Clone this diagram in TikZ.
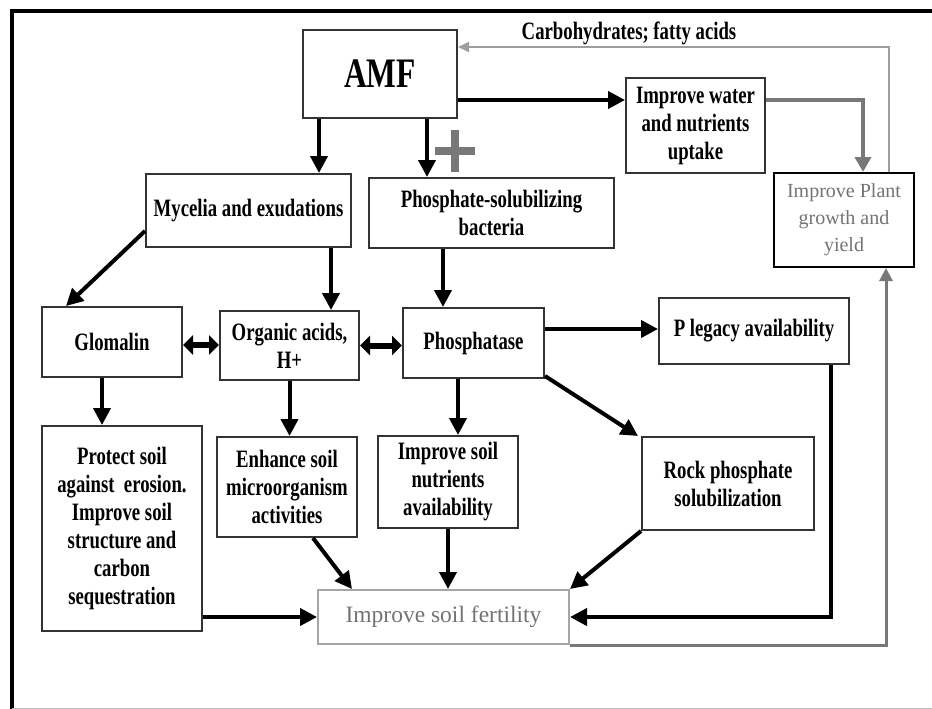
\documentclass[tikz,border=0pt]{standalone}
\usepackage{fontspec}
\setmainfont{Liberation Serif}
\newfontfamily\narrowfont{Liberation Serif}[FakeStretch=0.75]
\usetikzlibrary{arrows.meta}
\definecolor{softtext}{gray}{0.45}
\definecolor{midline}{gray}{0.47}
\definecolor{paleline}{gray}{0.62}

\begin{document}
\begin{tikzpicture}[x=1pt,y=-1pt,
      box/.style={draw=black!80, line width=2pt, fill=white, align=center, inner sep=2pt,
        font=\narrowfont\bfseries\fontsize{25}{28}\selectfont},
      softbox/.style={box, text=softtext, font=\fontsize{20}{27}\selectfont},
      arr/.style={line width=4pt, -{Triangle[length=17pt,width=17pt]}},
      twoway/.style={line width=6pt, {Triangle[length=10pt,width=19pt]}-{Triangle[length=10pt,width=19pt]}},
      grayarr/.style={midline, line width=4pt, -{Triangle[length=15pt,width=16pt]}}]
      \useasboundingbox (0,0) rectangle (932,709);
      \draw[line width=4pt] (12,709) -- (12,11) -- (932,11);
      \draw[gray!50, line width=1pt] (12,708) -- (932,708);

      \node[box, minimum width=154, minimum height=88, font=\narrowfont\bfseries\fontsize{42}{42}\selectfont] (AMF) at (380,74) {AMF};
      \node[box, minimum width=139, minimum height=95] (Uptake) at (695.5,125.5) {Improve water\\and nutrients\\uptake};
      \node[softbox, draw=black, minimum width=140, minimum height=94] (Plant) at (844,220) {Improve Plant\\growth and\\yield};
      \node[box, minimum width=205, minimum height=73] (Mycelia) at (248.5,210.5) {Mycelia and exudations};
      \node[box, minimum width=245, minimum height=70] (PSB) at (491.5,213) {Phosphate-solubilizing\\bacteria};
      \node[box, minimum width=140, minimum height=70] (Glomalin) at (112,342) {Glomalin};
      \node[box, minimum width=139, minimum height=69] (Acids) at (289.5,345.5) {Organic acids,\\H+};
      \node[box, minimum width=141, minimum height=70] (Phosphatase) at (473.5,343) {Phosphatase};
      \node[box, minimum width=190, minimum height=66] (Legacy) at (754,331) {P legacy availability};
      \node[box, minimum width=160, minimum height=205] (Protect) at (122,528.5) {Protect soil\\against\ \ erosion.\\Improve soil\\structure and\\carbon\\sequestration};
      \node[box, minimum width=140, minimum height=100] (Microbes) at (287,487) {Enhance soil\\microorganism\\activities};
      \node[box, minimum width=140, minimum height=92] (Nutrients) at (448,482) {Improve soil\\nutrients\\availability};
      \node[box, minimum width=172, minimum height=93] (Rock) at (728,483.5) {Rock phosphate\\solubilization};
      \node[softbox, draw=gray!70, minimum width=251, minimum height=54, font=\fontsize{23.5}{28}\selectfont] (Fertility) at (443.5,617) {Improve soil fertility};
      \node[font=\narrowfont\bfseries\fontsize{25}{28}\selectfont] (Carbo) at (629,33) {Carbohydrates; fatty acids};
      \coordinate (Plus) at (455,151);
      \draw[midline, line width=8pt] ([xshift=-20]Plus) -- ([xshift=20]Plus) ([yshift=-21]Plus) -- ([yshift=21]Plus);

      \draw[arr] ([xshift=17]AMF.south west) -- ([xshift=17]AMF.south west |- Mycelia.north);
      \draw[arr] ([xshift=47]AMF.south) -- ([xshift=47]AMF.south |- PSB.north);
      \draw[arr] ([yshift=-26]AMF.east) -- ([yshift=-26]AMF.east -| Uptake.west);
      \draw[grayarr] ([yshift=25.5]Uptake.east) -| ([xshift=19]Plant.north);
      \draw[paleline, line width=2pt, -{Triangle[length=11pt,width=10pt]}] ([xshift=45]Plant.north) |- ([yshift=27]AMF.east);
      \draw[arr] ([yshift=17]Mycelia.south west) -- ([xshift=25]Glomalin.north west);
      \draw[arr] ([xshift=82.5]Mycelia.south) -- ([xshift=82.5]Mycelia.south |- Acids.north);
      \draw[arr] ([xshift=-48.5]PSB.south) -- ([xshift=-48.5]PSB.south |- Phosphatase.north);
      \draw[twoway] ([yshift=-3]Glomalin.east) -- ([yshift=-3]Glomalin.east -| Acids.west);
      \draw[twoway] (Acids.east) -- (Acids.east -| Phosphatase.west);
      \draw[arr] ([xshift=-10]Glomalin.south) -- ([xshift=-10]Glomalin.south |- Protect.north);
      \draw[arr] (Acids.south) -- (Acids.south |- Microbes.north);
      \draw[arr] ([xshift=-15.5]Phosphatase.south) -- ([xshift=-15.5]Phosphatase.south |- Nutrients.north);
      \draw[arr] ([yshift=14]Phosphatase.east) -- ([yshift=14]Phosphatase.east -| Legacy.west);
      \draw[arr] ([yshift=3]Phosphatase.south east) -- ([xshift=-3]Rock.north west);
      \draw[arr] ([xshift=26]Microbes.south) -- ([xshift=35]Fertility.north west);
      \draw[arr] (Nutrients.south) -- (Nutrients.south |- Fertility.north);
      \draw[arr] (Rock.south west) -- (Fertility.north east);
      \draw[arr] ([xshift=77]Legacy.south) |- (Fertility.east);
      \draw[arr] (Protect.east |- Fertility.west) -- (Fertility.west);
      \draw[midline, line width=3pt, -{Triangle[length=13pt,width=13pt]}] (Fertility.south east) -| ([xshift=42]Plant.south);
    \end{tikzpicture}
\end{document}
